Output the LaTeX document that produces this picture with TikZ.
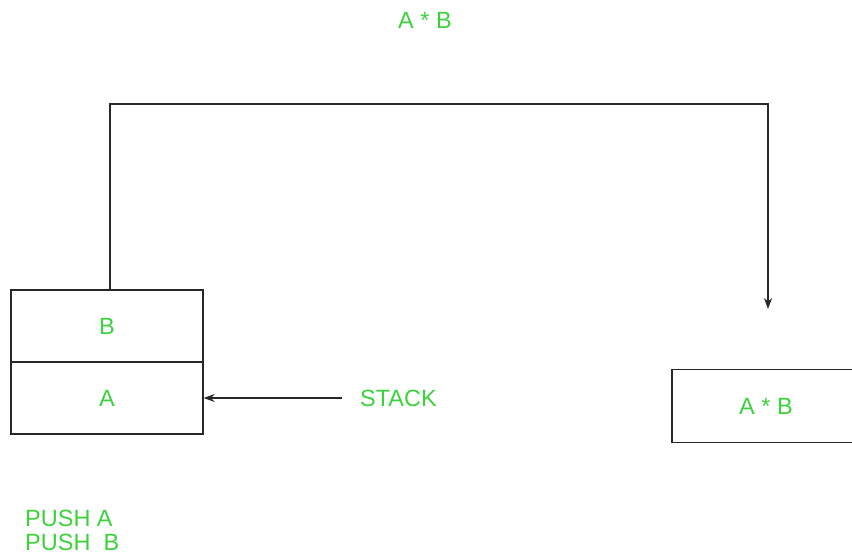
\documentclass[tikz,border=0pt]{standalone}
\usepackage{fontspec}
\setmainfont{Liberation Sans}
\usetikzlibrary{arrows.meta}
\definecolor{txtgreen}{RGB}{60,210,60}
\definecolor{linegray}{RGB}{40,40,40}
\begin{document}
\begin{tikzpicture}[x=1pt,y=-1pt,
  lbl/.style={text=txtgreen,font=\fontsize{23.5}{28}\selectfont,inner sep=0pt},
  cell/.style={draw=linegray,line width=1.3pt,minimum width=192pt,minimum height=72pt,inner sep=0pt,text=txtgreen,font=\fontsize{23.5}{28}\selectfont},
  conn/.style={draw=linegray,line width=1.2pt,-{Stealth[length=11pt,width=8pt]}}]
\clip (0,0) rectangle (852,557);
\fill[white] (0,0) rectangle (852,557);
\node[lbl] (title) at (425,20) {A * B};
\node[cell] (stackB) at (107,326) {B};
\node[cell] (stackA) at (107,398) {A};
\node[cell,minimum width=188pt,minimum height=73pt] (result) at (766,406) {A * B};
\node[lbl,inner xsep=18pt,anchor=west] (stacklbl) at (342,398) {STACK};
\node[lbl,anchor=west] (push1) at (25,518) {PUSH A};
\node[lbl,anchor=west] (push2) at (25,542) {PUSH\ \ B};
\coordinate (tip) at (768,309);
\coordinate (topy) at (0,104);
\draw[conn] ([xshift=3pt]stackB.north) |- (tip |- topy) -- (tip);
\draw[conn] (stacklbl.west) -- (stackA.east);
\end{tikzpicture}
\end{document}
